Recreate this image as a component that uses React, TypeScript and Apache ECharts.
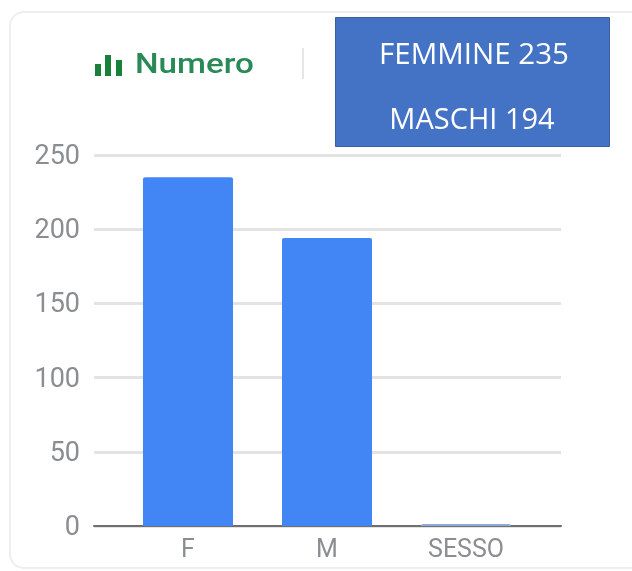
import React, { useEffect, useRef } from "react";
import * as echarts from "echarts";

const categories = ["F", "M", "SESSO"];
const values = [235, 194, 0];
const yTicks = { min: 0, max: 250, interval: 50 };
const noteLines = ["FEMMINE 235", "MASCHI 194"];
const legendLabel = "Numero";

export default function App() {
  const ref = useRef<HTMLDivElement>(null);
  useEffect(() => {
    document.body.style.margin = "0";
    const chart = echarts.init(ref.current!, null, { renderer: "svg" });
    chart.setOption({
      animation: false,
      backgroundColor: "#ffffff",
      grid: [
        { left: 94, width: 467, top: 155, height: 371 },
        { left: 118.5, width: 417, top: 155, height: 371 },
      ],
      xAxis: [
        {
          gridIndex: 0,
          type: "category",
          data: categories,
          axisLine: { show: true, lineStyle: { color: "#6f6f6f", width: 2 } },
          axisTick: { show: false },
          axisLabel: { show: false },
        },
        {
          gridIndex: 1,
          type: "category",
          data: categories,
          axisLine: { show: false },
          axisTick: { show: false },
          axisLabel: { color: "#8a8d91", fontFamily: "Roboto", fontSize: 25, margin: 10 },
        },
      ],
      yAxis: [
        {
          gridIndex: 0,
          type: "value",
          ...yTicks,
          axisLine: { show: false },
          axisTick: { show: false },
          axisLabel: { color: "#8a8d91", fontFamily: "Roboto", fontSize: 27, margin: 14 },
          splitLine: { lineStyle: { color: "#e3e3e3", width: 3 } },
        },
        {
          gridIndex: 1,
          type: "value",
          ...yTicks,
          show: false,
        },
      ],
      series: [
        {
          type: "bar",
          xAxisIndex: 1,
          yAxisIndex: 1,
          data: values,
          barWidth: 90,
          barMinHeight: 2,
          itemStyle: {
            color: (p: any) => (p.value === 0 ? "#8fa9dc" : "#4285f4"),
            borderRadius: [2, 2, 0, 0],
          },
          z: 5,
        },
      ],
      graphic: [
        {
          type: "rect",
          z: -1,
          shape: { x: 10, y: 12, width: 720, height: 556, r: 14 },
          style: { fill: "#ffffff", stroke: "#eceef0", lineWidth: 2 },
        },
        { type: "rect", shape: { x: 95, y: 64, width: 6, height: 12 }, style: { fill: "#188038" } },
        { type: "rect", shape: { x: 105, y: 55, width: 6, height: 21 }, style: { fill: "#188038" } },
        { type: "rect", shape: { x: 116, y: 60, width: 6, height: 16 }, style: { fill: "#188038" } },
        {
          type: "text",
          x: 135,
          y: 64,
          scaleX: 1.23,
          style: {
            text: legendLabel,
            fill: "#2a8a55",
            font: '500 27px Roboto',
            textAlign: "left",
            textVerticalAlign: "middle",
          },
        },
        { type: "line", shape: { x1: 303, y1: 48, x2: 303, y2: 79 }, style: { stroke: "#e6e6e6", lineWidth: 2 } },
        {
          type: "rect",
          shape: { x: 335.5, y: 17.5, width: 274, height: 129 },
          style: { fill: "#4472c4", stroke: "#3a5f9f", lineWidth: 1 },
        },
        {
          type: "text",
          x: 474,
          y: 52,
          style: { text: noteLines[0], fill: "#ffffff", font: '29.5px "Open Sans"', textAlign: "center", textVerticalAlign: "middle" },
        },
        {
          type: "text",
          x: 472,
          y: 117,
          style: { text: noteLines[1], fill: "#ffffff", font: '29px "Open Sans"', textAlign: "center", textVerticalAlign: "middle" },
        },
      ],
    });
    return () => chart.dispose();
  }, []);
  return <div ref={ref} style={{ width: 632, height: 571, filter: "blur(0.7px)" }} />;
}
